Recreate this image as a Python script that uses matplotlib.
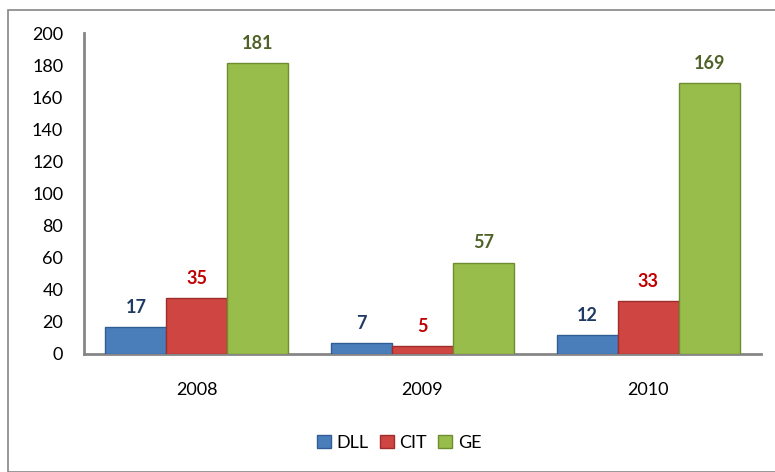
import matplotlib.pyplot as plt
import matplotlib.patches as mpatches
import numpy as np

years = ["2008", "2009", "2010"]
series_names = ["DLL", "CIT", "GE"]
dll = [17, 7, 12]
cit = [35, 5, 33]
ge = [181, 57, 169]

COLORS = {
    "DLL": "#4a7ebb",
    "CIT": "#cf4541",
    "GE": "#98bd4a",
}
EDGES = {"DLL": "#2f5d94", "CIT": "#9c2f2c", "GE": "#6e8d30"}
LABEL_COLORS = {"DLL": "#1f3b63", "CIT": "#c00000", "GE": "#4f6228"}
AXIS = "#868686"

plt.rcParams["font.family"] = ["Lato", "DejaVu Sans"]

fig = plt.figure(figsize=(7.75, 4.72), dpi=100)
fig.patch.set_facecolor("white")

# outer chart border
fig.patches.append(mpatches.Rectangle((8 / 775, 0), 1.0, 1 - 10 / 472,
                                      transform=fig.transFigure, fill=False,
                                      edgecolor=AXIS, linewidth=1.2))

ax = fig.add_axes([84 / 775, 118 / 472, 677 / 775, 321 / 472])
x = np.arange(len(years))
w = 0.27

for i, (name, vals) in enumerate(zip(series_names, [dll, cit, ge])):
    pos = x + (i - 1) * w
    bars = ax.bar(pos, vals, width=w, color=COLORS[name], edgecolor=EDGES[name],
                  linewidth=1.0, label=name, zorder=3)
    for b, v in zip(bars, vals):
        ax.annotate(str(v), (b.get_x() + b.get_width() / 2, v),
                    xytext=(0, 8), textcoords="offset points",
                    ha="center", va="bottom", fontsize=13, fontweight="bold",
                    color=LABEL_COLORS[name])

ax.set_xlim(-0.5, 2.5)
ax.set_ylim(0, 200)
ax.set_yticks(range(0, 201, 20))
ax.set_xticks(x)
ax.set_xticklabels(years)
ax.tick_params(axis="both", length=0, labelsize=13, colors="black")
ax.tick_params(axis="y", pad=15)
ax.tick_params(axis="x", pad=20)
ax.spines[["top", "right"]].set_visible(False)
for s in ["left", "bottom"]:
    ax.spines[s].set_color(AXIS)
    ax.spines[s].set_linewidth(2)

handles = [mpatches.Patch(facecolor=COLORS[n], edgecolor=EDGES[n], label=n)
           for n in series_names]
fig.legend(handles=handles, loc="center", bbox_to_anchor=(0.515, 0.062), ncol=3,
           frameon=False, fontsize=13, handlelength=0.8, handleheight=0.8,
           handletextpad=0.3, columnspacing=0.6)

fig.savefig("out.png", dpi=100, facecolor="white")
